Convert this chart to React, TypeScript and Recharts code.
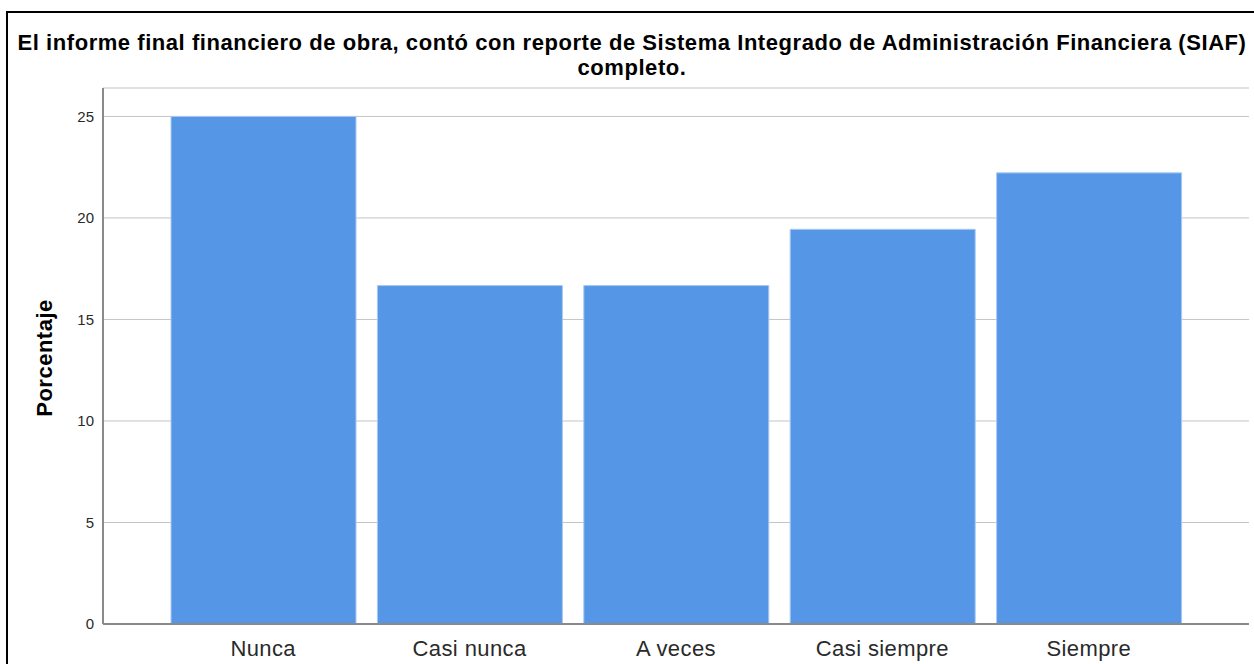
import { BarChart, Bar, XAxis, YAxis, CartesianGrid } from "recharts";

const categories = ["Nunca", "Casi nunca", "A veces", "Casi siempre", "Siempre"];
const percentages = [25.0, 16.67, 16.67, 19.44, 22.22];
const yTicks = [0, 5, 10, 15, 20, 25];

const chartData = categories.map((name, i) => ({ name, value: percentages[i] }));

const FONT = '"Liberation Sans", Arial, sans-serif';

export default function App() {
  return (
    <div
      style={{
        position: "absolute",
        left: 0,
        top: 0,
        width: 1254,
        height: 664,
        overflow: "hidden",
        background: "#fff",
        fontFamily: FONT,
      }}
    >
      {/* outer frame */}
      <div
        style={{
          position: "absolute",
          left: 6,
          top: 11,
          width: 1300,
          height: 700,
          border: "2px solid #000",
          boxSizing: "border-box",
        }}
      />
      <div
        style={{
          position: "absolute",
          left: 0,
          top: 30,
          width: 1264,
          textAlign: "center",
          fontWeight: "bold",
          fontSize: 22,
          letterSpacing: 0.55,
          lineHeight: "25px",
          color: "#000",
          whiteSpace: "nowrap",
        }}
      >
        El informe final financiero de obra, contó con reporte de Sistema Integrado de Administración Financiera (SIAF)
        <br />
        completo.
      </div>
      <div
        style={{
          position: "absolute",
          left: 45,
          top: 358,
          transform: "translate(-50%, -50%) rotate(-90deg)",
          fontWeight: "bold",
          fontSize: 22,
          letterSpacing: 0.5,
          color: "#000",
          whiteSpace: "nowrap",
        }}
      >
        Porcentaje
      </div>
      <div style={{ position: "absolute", left: 0, top: 0 }}>
        <BarChart
          width={1254}
          height={664}
          data={chartData}
          margin={{ top: 88, right: 5, bottom: 0, left: 0 }}
        >
          <CartesianGrid vertical={false} stroke="#c4c4c4" strokeWidth={1} />
          <XAxis
            dataKey="name"
            padding={{ left: 57, right: 57 }}
            tickLine={false}
            axisLine={{ stroke: "#8a8a8a", strokeWidth: 2 }}
            tick={{ fill: "#2a2a2a", fontSize: 22, letterSpacing: 0.4, fontFamily: FONT }}
            tickMargin={10}
            height={40}
            interval={0}
          />
          <YAxis
            width={103}
            domain={[0, 26.4]}
            ticks={yTicks}
            tickLine={false}
            axisLine={{ stroke: "#8a8a8a", strokeWidth: 2 }}
            tick={{ fill: "#2a2a2a", fontSize: 15, fontFamily: FONT }}
            tickMargin={3}
          />
          <Bar
            dataKey="value"
            fill="#5596e6"
            stroke="#a9c9f2"
            strokeWidth={1}
            barSize={185}
            isAnimationActive={false}
          />
        </BarChart>
      </div>
    </div>
  );
}
